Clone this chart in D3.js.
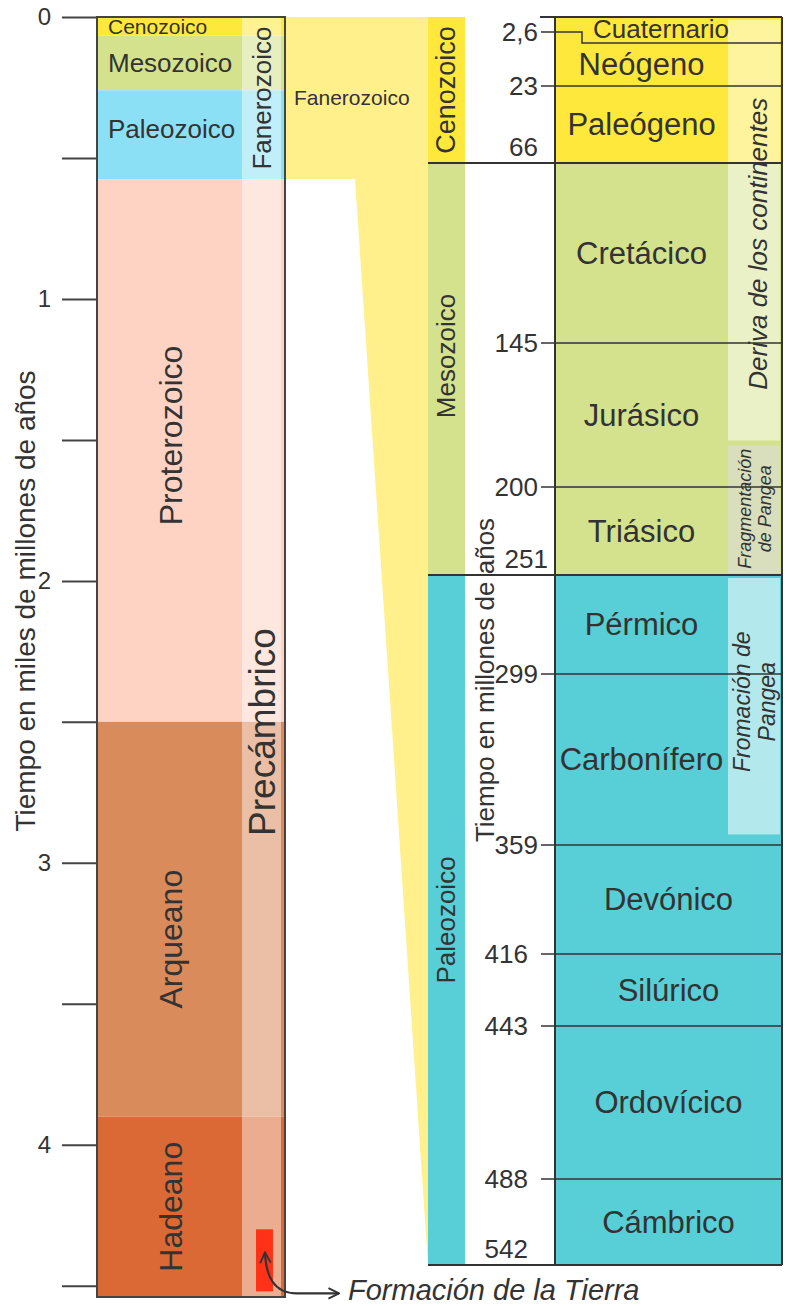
<!DOCTYPE html>
<html lang="es">
  <head>
    <meta charset="UTF-8" />
    <title>Escala del tiempo geológico</title>
    <style>
      body {
        margin: 0;
        background: #fff;
      }
      svg text {
        font-family: "Liberation Sans", Arial, sans-serif;
        fill: #333;
      }
    </style>
  </head>
  <body>
    <div id="chart"></div>
    <script src="https://cdnjs.cloudflare.com/ajax/libs/d3/7.8.5/d3.min.js"></script>
    <script>
      // ---- data: left column (miles de millones de años) ----
      var leftEras = ["Cenozoico", "Mesozoico", "Paleozoico", "Proterozoico", "Arqueano", "Hadeano"];
      var leftEraStart = [0, 0.066, 0.26, 0.575, 2.5, 3.9];
      var leftEraEnd = [0.066, 0.26, 0.575, 2.5, 3.9, 4.54];
      var eons = ["Fanerozoico", "Precámbrico"];
      var eonStart = [0, 0.575];
      var eonEnd = [0.575, 4.54];
      var leftTicks = [0, 0.5, 1, 1.5, 2, 2.5, 3, 3.5, 4, 4.5];
      var leftTickLabels = ["0", "", "1", "", "2", "", "3", "", "4", ""];
      var earthFormation = [4.3, 4.52];

      // ---- data: right column (millones de años) ----
      var rightEras = ["Cenozoico", "Mesozoico", "Paleozoico"];
      var rightEraStart = [0, 66, 251];
      var rightEraEnd = [66, 251, 542];
      var periods = ["Cuaternario", "Neógeno", "Paleógeno", "Cretácico", "Jurásico", "Triásico",
        "Pérmico", "Carbonífero", "Devónico", "Silúrico", "Ordovícico", "Cámbrico"];
      var periodStart = [0, 2.6, 23, 66, 145, 200, 251, 299, 359, 416, 443, 488];
      var periodEnd = [2.6, 23, 66, 145, 200, 251, 299, 359, 416, 443, 488, 542];
      var periodEra = [0, 0, 0, 1, 1, 1, 2, 2, 2, 2, 2, 2];
      var rightTicks = [2.6, 23, 66, 145, 200, 251, 299, 359, 416, 443, 488, 542];
      var rightTickLabels = ["2,6", "23", "66", "145", "200", "251", "299", "359", "416", "443", "488", "542"];
      var events = ["Deriva de los continentes", "Fragmentación de Pangea", "Fromación de Pangea"];
      var eventStart = [0, 183, 251];
      var eventEnd = [183, 251, 356];

      var leftColors = ["#ffe83c", "#d4e28e", "#8ce0f5", "#fed3c3", "#d98b5c", "#db6935"];
      var rightColors = ["#ffe83c", "#d4e28e", "#58ced6"];

      var width = 787, height = 1306;
      var svg = d3.select("#chart").append("svg")
        .attr("width", width)
        .attr("height", height);

      // scales
      var yL = d3.scaleLinear().domain([0, 4.54]).range([17, 1297]);
      // the right column is drawn with unequal spacing, so a polylinear scale
      var yR = d3.scaleLinear()
        .domain([0].concat(rightTicks))
        .range([17, 32, 86, 163, 343, 487, 575, 674, 845, 954, 1026, 1179, 1265]);

      var colL = { x0: 97, x1: 285, strip0: 242, strip1: 281 };
      var colR = { era0: 428, era1: 465, x0: 555, x1: 782, strip0: 728, strip1: 780 };

      function rotLabel(g, text, x, y, size, italic) {
        return g.append("text")
          .attr("transform", "translate(" + x + "," + y + ") rotate(-90)")
          .attr("text-anchor", "middle")
          .attr("dominant-baseline", "central")
          .style("font-size", size + "px")
          .style("font-style", italic ? "italic" : "normal")
          .text(text);
      }

      // connector (Fanerozoico zoom)
      svg.append("polygon")
        .attr("fill", "#fff08c")
        .attr("points", [
          [colL.x1, yL(0)], [colR.era0, yR(0)], [colR.era0, yR(542)],
          [355, yL(eonEnd[0])], [colL.x1, yL(eonEnd[0])]
        ].map(function (p) { return p.join(","); }).join(" "));

      svg.append("text")
        .attr("x", 294).attr("y", 97)
        .attr("dominant-baseline", "central")
        .style("font-size", "21px")
        .text("Fanerozoico");

      // ---- left column ----
      var left = svg.append("g");
      left.selectAll(".era")
        .data(leftEras)
        .enter().append("rect")
        .attr("x", colL.x0)
        .attr("width", colL.x1 - colL.x0)
        .attr("y", function (d, i) { return yL(leftEraStart[i]); })
        .attr("height", function (d, i) { return yL(leftEraEnd[i]) - yL(leftEraStart[i]); })
        .attr("fill", function (d, i) { return leftColors[i]; });

      left.selectAll(".eon")
        .data(eons)
        .enter().append("rect")
        .attr("x", colL.strip0)
        .attr("width", colL.strip1 - colL.strip0)
        .attr("y", function (d, i) { return yL(eonStart[i]); })
        .attr("height", function (d, i) { return yL(eonEnd[i]) - yL(eonStart[i]); })
        .attr("fill", "#fff")
        .attr("fill-opacity", 0.45);

      left.append("rect")
        .attr("x", 256).attr("width", 17)
        .attr("y", yL(earthFormation[0]))
        .attr("height", yL(earthFormation[1]) - yL(earthFormation[0]))
        .attr("fill", "#ff3218");

      left.append("rect")
        .attr("x", colL.x0).attr("y", yL(0))
        .attr("width", colL.x1 - colL.x0)
        .attr("height", yL(4.54) - yL(0))
        .attr("fill", "none")
        .attr("stroke", "#444")
        .attr("stroke-width", 2);

      // era labels: small ones horizontal, long ones rotated
      var hSizes = [21, 26, 26];
      var rotShift = [0, 0, 0, -15, 20, 0];
      leftEras.forEach(function (name, i) {
        var ym = (yL(leftEraStart[i]) + yL(leftEraEnd[i])) / 2;
        if (i < 3) {
          left.append("text")
            .attr("x", 108).attr("y", ym - (i == 2 ? 6 : 0))
            .attr("dominant-baseline", "central")
            .style("font-size", hSizes[i] + "px")
            .text(name);
        } else {
          rotLabel(left, name, 171, ym + rotShift[i], 32);
        }
      });
      rotLabel(left, eons[0], 262, (yL(eonStart[0]) + yL(eonEnd[0])) / 2, 26);
      rotLabel(left, eons[1], 262, (yL(eonStart[1]) + yL(eonEnd[1])) / 2 - 6, 37);

      var axL = svg.append("g")
        .attr("transform", "translate(" + colL.x0 + ",0)")
        .call(d3.axisLeft(yL)
          .tickValues(leftTicks)
          .tickSize(35)
          .tickPadding(11)
          .tickFormat(function (d, i) { return leftTickLabels[i]; }));
      axL.select(".domain").remove();
      axL.selectAll(".tick line").attr("stroke", "#444").attr("stroke-width", 2);
      axL.selectAll(".tick text")
        .style("font-size", "24px")
        .style("font-family", "'Liberation Sans', Arial, sans-serif")
        .attr("fill", "#333");

      rotLabel(svg, "Tiempo en miles de millones de años", 25, 601, 28);

      // annotation arrow
      var defs = svg.append("defs");
      defs.append("marker")
        .attr("id", "arr")
        .attr("viewBox", "0 0 10 10")
        .attr("refX", 9).attr("refY", 5)
        .attr("markerWidth", 6).attr("markerHeight", 6)
        .attr("markerUnits", "strokeWidth")
        .attr("orient", "auto-start-reverse")
        .append("path")
        .attr("d", "M1,1 L9,5 L1,9")
        .attr("fill", "none")
        .attr("stroke", "#333")
        .attr("stroke-width", 1.4);

      var ax = 265, ay = yL(earthFormation[0]) + 23, by = yL(earthFormation[1]) + 2;
      svg.append("path")
        .attr("d", "M" + ax + "," + ay + " C" + (ax + 1) + "," + (by - 18) + " " + (ax + 8) + "," + by +
          " " + (ax + 32) + "," + by + " L" + 339 + "," + by)
        .attr("fill", "none")
        .attr("stroke", "#333")
        .attr("stroke-width", 2.2)
        .attr("marker-start", "url(#arr)")
        .attr("marker-end", "url(#arr)");

      svg.append("text")
        .attr("x", 348).attr("y", 1300)
        .style("font-size", "29px")
        .style("font-style", "italic")
        .text("Formación de la Tierra");

      // ---- right column ----
      var right = svg.append("g");
      right.selectAll(".rera")
        .data(rightEras)
        .enter().append("rect")
        .attr("x", colR.era0)
        .attr("width", colR.era1 - colR.era0)
        .attr("y", function (d, i) { return yR(rightEraStart[i]); })
        .attr("height", function (d, i) { return yR(rightEraEnd[i]) - yR(rightEraStart[i]); })
        .attr("fill", function (d, i) { return rightColors[i]; });

      rightEras.forEach(function (name, i) {
        var ym = (yR(rightEraStart[i]) + yR(rightEraEnd[i])) / 2;
        rotLabel(right, name, 446, ym - (i == 1 ? 13 : 0), i == 0 ? 27 : 26);
      });

      right.selectAll(".period")
        .data(periods)
        .enter().append("rect")
        .attr("x", colR.x0)
        .attr("width", colR.x1 - colR.x0)
        .attr("y", function (d, i) { return yR(periodStart[i]); })
        .attr("height", function (d, i) { return yR(periodEnd[i]) - yR(periodStart[i]); })
        .attr("fill", function (d, i) { return rightColors[periodEra[i]]; });

      var eventFill = ["#fff", "#dcdcdc", "#fff"];
      var eventOpacity = [0.5, 0.6, 0.55];
      right.selectAll(".event")
        .data(events)
        .enter().append("rect")
        .attr("x", colR.strip0)
        .attr("width", colR.strip1 - colR.strip0)
        .attr("y", function (d, i) { return yR(eventStart[i]) + 3; })
        .attr("height", function (d, i) { return yR(eventEnd[i]) - yR(eventStart[i]) - 5; })
        .attr("fill", function (d, i) { return eventFill[i]; })
        .attr("fill-opacity", function (d, i) { return eventOpacity[i]; });

      // boundaries
      var elbow = 11;
      rightTicks.forEach(function (t, i) {
        var y = yR(t);
        var isEra = rightEraEnd.indexOf(t) >= 0;
        if (i == 0) {
          right.append("path")
            .attr("d", "M541," + y + " H582 V" + (y + elbow) + " H" + colR.x1)
            .attr("fill", "none").attr("stroke", "#333").attr("stroke-width", 1.5);
        } else if (isEra) {
          right.append("line")
            .attr("x1", colR.era0).attr("x2", colR.x1)
            .attr("y1", y).attr("y2", y)
            .attr("stroke", "#333").attr("stroke-width", 2);
        } else {
          right.append("line")
            .attr("x1", 541).attr("x2", colR.x1)
            .attr("y1", y).attr("y2", y)
            .attr("stroke", "#333").attr("stroke-width", 1.5);
        }
        right.append("text")
          .attr("x", t == 251 ? 548 : t > 400 ? 528 : 538)
          .attr("y", isEra ? y - 16 : y)
          .attr("text-anchor", "end")
          .attr("dominant-baseline", "central")
          .style("font-size", "26px")
          .text(rightTickLabels[i]);
      });

      right.append("line")
        .attr("x1", 540).attr("x2", colR.x1)
        .attr("y1", yR(0)).attr("y2", yR(0))
        .attr("stroke", "#333").attr("stroke-width", 2);
      right.append("line")
        .attr("x1", colR.x0).attr("x2", colR.x0)
        .attr("y1", yR(0)).attr("y2", yR(542))
        .attr("stroke", "#333").attr("stroke-width", 2);
      right.append("line")
        .attr("x1", colR.x1).attr("x2", colR.x1)
        .attr("y1", yR(0)).attr("y2", yR(542))
        .attr("stroke", "#333").attr("stroke-width", 2);

      // period labels
      periods.forEach(function (name, i) {
        var y0 = yR(periodStart[i]) + (i == 1 ? elbow : 0);
        var y1 = yR(periodEnd[i]) + (i == 0 ? elbow : 0);
        var mid = (periodStart[i] + periodEnd[i]) / 2;
        var covered = events.some(function (e, j) { return mid >= eventStart[j] && mid <= eventEnd[j]; });
        var x = covered ? (colR.x0 + colR.strip0) / 2 : (colR.x0 + colR.x1) / 2;
        if (i == 0) x = 661;
        right.append("text")
          .attr("x", x)
          .attr("y", (y0 + y1) / 2 - (i == 0 ? 1 : 0))
          .attr("text-anchor", "middle")
          .attr("dominant-baseline", "central")
          .style("font-size", (i == 0 ? 26 : 31) + "px")
          .text(name);
      });

      // event labels
      rotLabel(right, events[0], 758, (yR(eventStart[0]) + yR(eventEnd[0])) / 2 + 14, 26, true);
      var fy = (yR(eventStart[1]) + yR(eventEnd[1])) / 2;
      rotLabel(right, "Fragmentación", 745, fy, 18, true);
      rotLabel(right, "de Pangea", 765, fy, 18, true);
      var py = (yR(eventStart[2]) + yR(eventEnd[2])) / 2;
      rotLabel(right, "Fromación de", 742, py - 4, 23, true);
      rotLabel(right, "Pangea", 767, py - 4, 23, true);

      rotLabel(svg, "Tiempo en millones de años", 485, 680, 26);
    </script>
  </body>
</html>
